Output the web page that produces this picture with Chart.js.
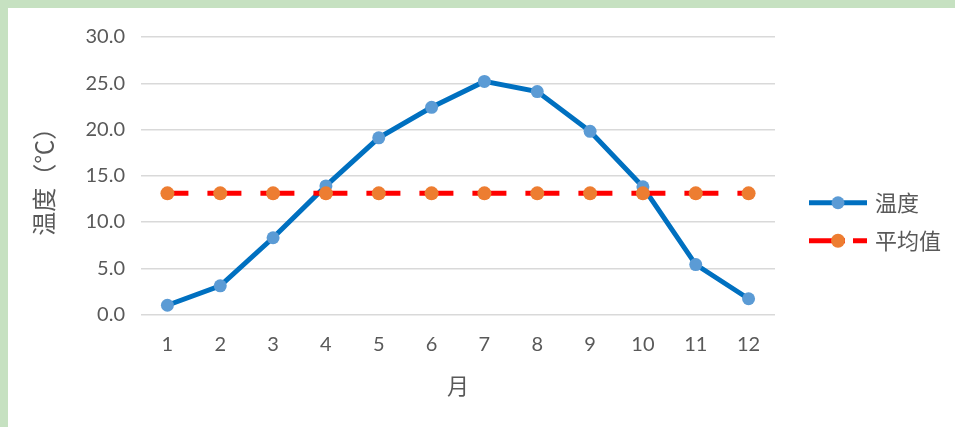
<!DOCTYPE html>
<html>
<head>
<meta charset="utf-8">
<script src="https://cdn.jsdelivr.net/npm/chart.js@4/dist/chart.umd.min.js"></script>
<style>
  html, body { margin: 0; padding: 0; }
  body { width: 955px; height: 427px; background: #c6e1c1; overflow: hidden; position: relative; }
  #frame { position: absolute; left: 8px; top: 8px; width: 947px; height: 419px; background: #ffffff; }
  canvas { display: block; }
</style>
</head>
<body>
<div id="frame"><canvas id="chart" width="947" height="419"></canvas></div>
<script>
// Monthly temperature and its yearly mean
const months = ['1', '2', '3', '4', '5', '6', '7', '8', '9', '10', '11', '12'];
const temperature = [1.0, 3.1, 8.3, 13.9, 19.1, 22.4, 25.2, 24.1, 19.8, 13.8, 5.4, 1.7];
const meanValue = [13.1, 13.1, 13.1, 13.1, 13.1, 13.1, 13.1, 13.1, 13.1, 13.1, 13.1, 13.1];
const seriesNames = ['温度', '平均值'];
const axisTitles = { x: '月', y: '温度（℃）' };

const GRAY = '#595959';
const LATIN = 'Lato, "Noto Sans", sans-serif';
const CJK = '"Noto Sans CJK SC", "Noto Sans", sans-serif';

// Legend drawn to the right of the plot: a line sample with the marker in the middle
const sideLegend = {
  id: 'sideLegend',
  afterDraw(chart) {
    const { ctx, chartArea } = chart;
    const x0 = chartArea.right + 34;
    const len = 58;
    const midY = (chartArea.top + chartArea.bottom) / 2 + 46;
    const rowGap = 38;
    const sets = chart.data.datasets;
    sets.forEach((ds, i) => {
      const y = midY + (i - (sets.length - 1) / 2) * rowGap;
      ctx.save();
      ctx.strokeStyle = ds.borderColor;
      ctx.lineWidth = ds.borderWidth;
      ctx.lineCap = 'butt';
      ctx.setLineDash(ds.borderDash ? [36, 8] : []);
      ctx.beginPath();
      ctx.moveTo(x0, y);
      ctx.lineTo(x0 + len, y);
      ctx.stroke();
      ctx.setLineDash([]);
      ctx.fillStyle = ds.pointBackgroundColor;
      ctx.beginPath();
      ctx.arc(x0 + len / 2, y, ds.pointRadius, 0, Math.PI * 2);
      ctx.fill();
      ctx.fillStyle = GRAY;
      ctx.font = '22px ' + CJK;
      ctx.textAlign = 'left';
      ctx.textBaseline = 'middle';
      ctx.fillText(ds.label, x0 + len + 8, y);
      ctx.restore();
    });
  }
};

new Chart(document.getElementById('chart'), {
  type: 'line',
  data: {
    labels: months,
    datasets: [
      {
        label: seriesNames[0],
        data: temperature,
        borderColor: '#0070c0',
        borderWidth: 5,
        pointBackgroundColor: '#5b9bd5',
        pointBorderWidth: 0,
        pointRadius: 6.5,
        tension: 0,
        order: 1
      },
      {
        label: seriesNames[1],
        data: meanValue,
        borderColor: '#ff0000',
        borderWidth: 5,
        borderDash: [34, 19],
        borderDashOffset: 13,
        borderCapStyle: 'butt',
        pointBackgroundColor: '#ed7d31',
        pointBorderWidth: 0,
        pointRadius: 7,
        tension: 0,
        order: 0
      }
    ]
  },
  options: {
    responsive: false,
    animation: false,
    devicePixelRatio: 1,
    layout: { padding: { left: 0, right: 180, top: 29, bottom: 0 } },
    plugins: {
      legend: { display: false },
      tooltip: { enabled: false }
    },
    scales: {
      x: {
        offset: true,
        grid: { display: false, drawTicks: false },
        border: { display: false },
        ticks: { color: GRAY, font: { family: LATIN, size: 20 }, padding: 18.5, maxRotation: 0 },
        title: { display: true, text: axisTitles.x, color: GRAY, font: { family: CJK, size: 22 }, padding: { top: 0, bottom: 28 } },
        afterFit(scale) { scale.height = 112.5; }
      },
      y: {
        min: 0,
        max: 30,
        grid: { color: '#d9d9d9', lineWidth: 1.5, drawTicks: false },
        border: { display: false },
        ticks: {
          stepSize: 5,
          color: GRAY,
          font: { family: LATIN, size: 20 },
          padding: 16,
          callback: (v) => Number(v).toFixed(1)
        },
        title: { display: true, text: axisTitles.y, color: GRAY, font: { family: CJK, size: 24 }, padding: { top: 21, bottom: 0 } },
        afterFit(scale) { scale.width = 133; }
      }
    }
  },
  plugins: [sideLegend]
});
</script>
</body>
</html>
